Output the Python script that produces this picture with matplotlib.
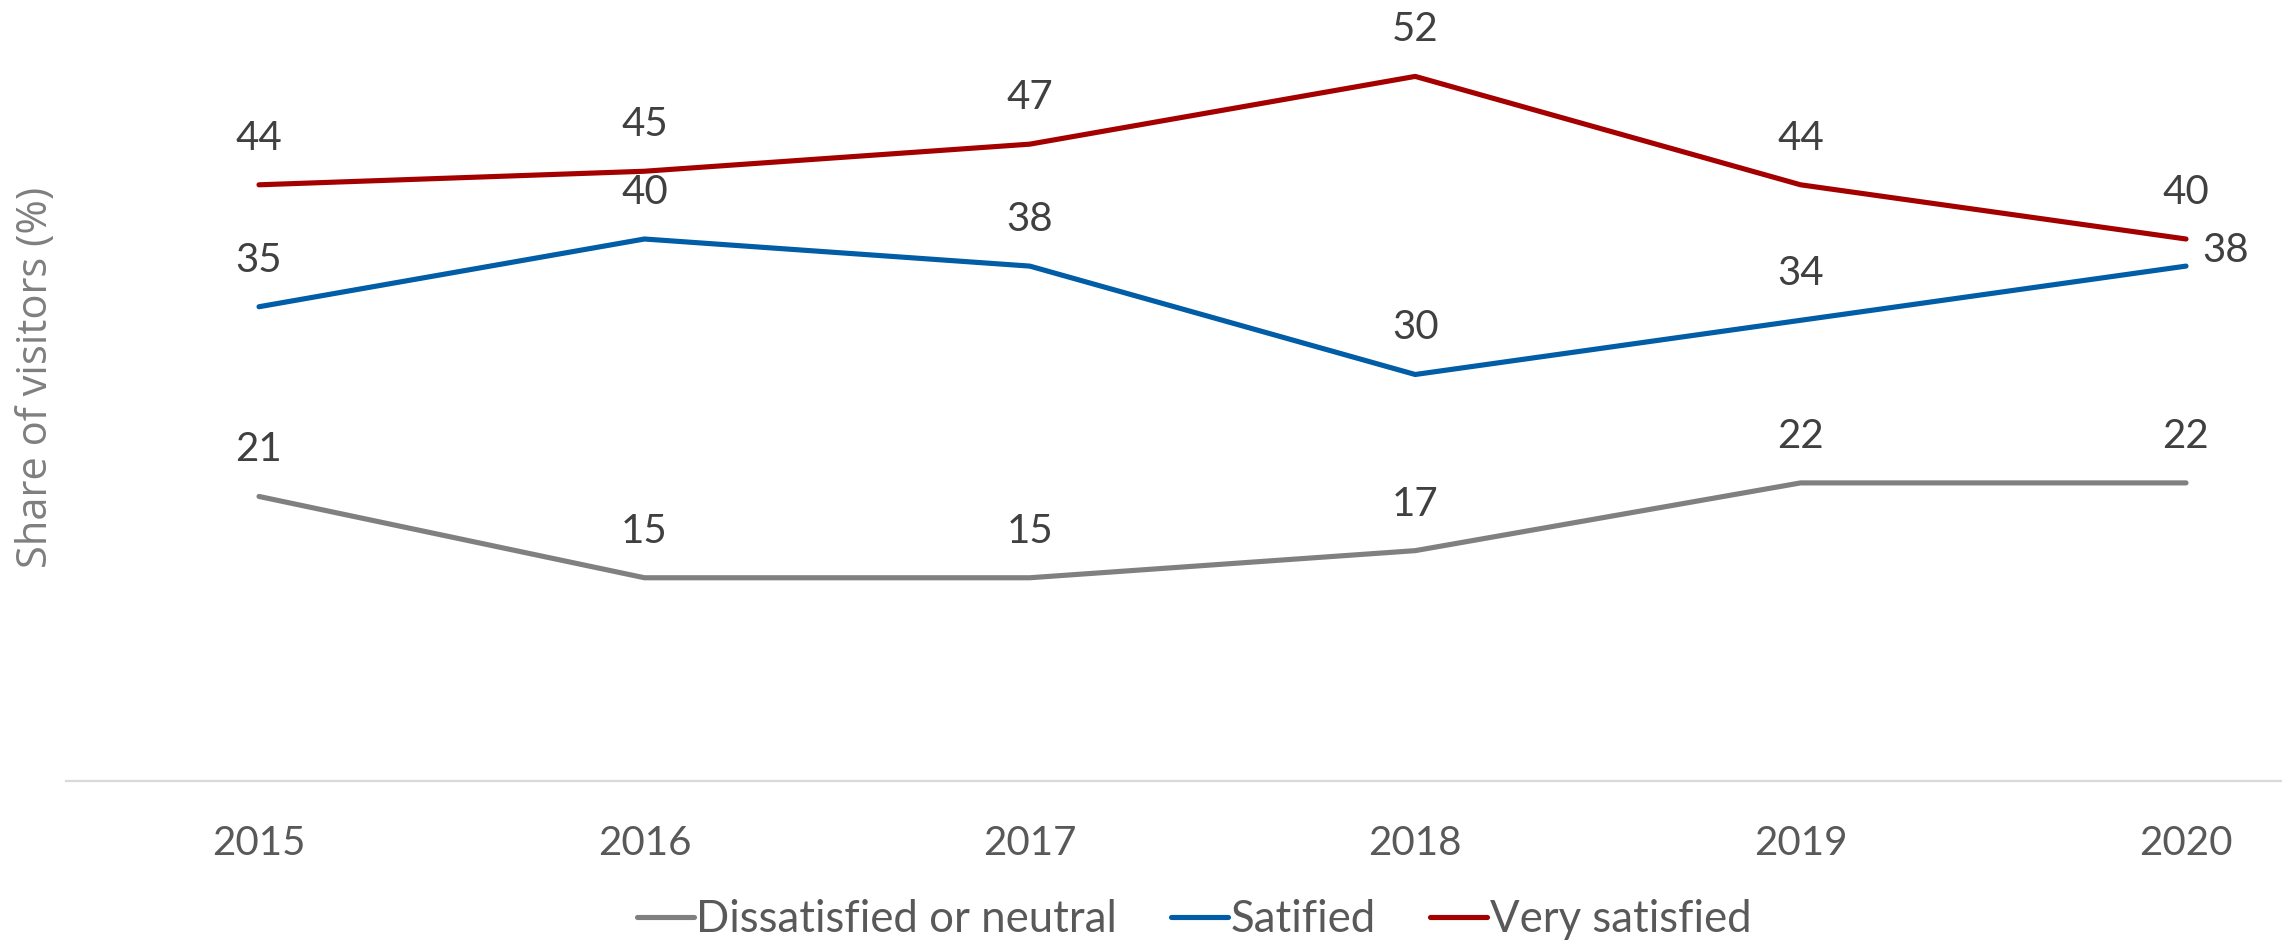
import matplotlib
matplotlib.use("Agg")
import matplotlib.pyplot as plt

years = ["2015", "2016", "2017", "2018", "2019", "2020"]
dissatisfied = [21, 15, 15, 17, 22, 22]
satisfied = [35, 40, 38, 30, 34, 38]
very_satisfied = [44, 45, 47, 52, 44, 40]

series_names = ["Dissatisfied or neutral", "Satified", "Very satisfied"]
series_colors = ["#808080", "#005DA6", "#A50000"]

plt.rcParams["font.family"] = ["Lato", "DejaVu Sans"]

W, H = 2282, 944
fig = plt.figure(figsize=(W / 100, H / 100), dpi=100)
fig.patch.set_facecolor("white")

# plot area: category axis at y=781 px, one category every ~385 px
left_px, base_px, cat_px, unit_px = 66.3, 781, 385.4, 13.55
ymax = 60
ax = fig.add_axes([left_px / W, (H - base_px) / H,
                   6 * cat_px / W, ymax * unit_px / H])
ax.set_xlim(-0.5, 5.5)
ax.set_ylim(0, ymax)
ax.set_facecolor("none")

x = list(range(len(years)))
all_series = [dissatisfied, satisfied, very_satisfied]
for vals, name, col in zip(all_series, series_names, series_colors):
    ax.plot(x, vals, color=col, lw=3.7, solid_capstyle="round",
            solid_joinstyle="round", label=name, clip_on=False)

label_kw = dict(fontsize=29, color="#404040", textcoords="offset points",
                annotation_clip=False)
for vals, name in zip(all_series, series_names):
    for i, v in enumerate(vals):
        if name == "Satified" and i == len(vals) - 1:
            ax.annotate(f"{v}", (i, v), xytext=(12, 11.5), ha="left",
                        va="center", **label_kw)
        else:
            ax.annotate(f"{v}", (i, v), xytext=(0, 33.5), ha="center",
                        va="center", **label_kw)

for s in ["top", "right", "left"]:
    ax.spines[s].set_visible(False)
ax.spines["bottom"].set_color("#D9D9D9")
ax.spines["bottom"].set_linewidth(1.6)
ax.set_yticks([])
ax.set_xticks(x)
ax.set_xticklabels(years, fontsize=29, color="#595959")
ax.tick_params(axis="x", length=0, pad=32)

fig.text(36 / W, 1 - 377 / H, "Share of visitors (%)", rotation=90,
         ha="center", va="center", fontsize=30, color="#7F7F7F",
         family=["Open Sans", "DejaVu Sans"])

leg = fig.legend(loc="center", bbox_to_anchor=(1194 / W, 1 - 920 / H),
                 ncol=3, frameon=False, fontsize=31.5, handlelength=1.3,
                 handletextpad=0.05, columnspacing=1.25, borderaxespad=0)
for t in leg.get_texts():
    t.set_color("#595959")

fig.savefig("out.png", dpi=100, facecolor="white")
